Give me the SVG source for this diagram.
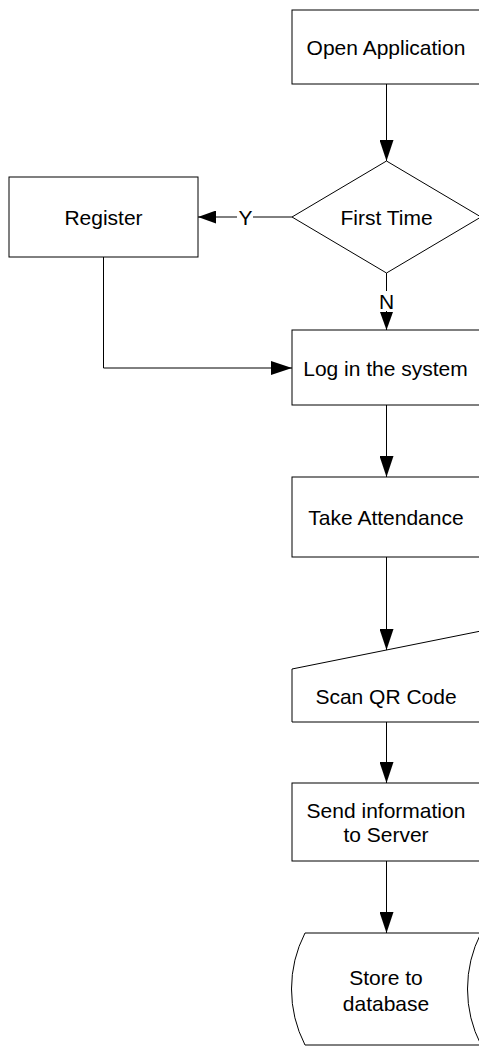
<svg xmlns="http://www.w3.org/2000/svg" width="479" height="1046" viewBox="0 0 479 1046">
  <style>
    .shape { fill: #ffffff; stroke: #000000; stroke-width: 1; }
    .edge { fill: none; stroke: #000000; stroke-width: 1; }
    .label { font-family: "Liberation Sans", Arial, sans-serif; font-size: 21px; fill: #000000; text-anchor: middle; }
  </style>
  <defs>
    <marker id="arrow" markerUnits="userSpaceOnUse" markerWidth="21" markerHeight="14" refX="21" refY="7" orient="auto">
      <path d="M0,0 L21,7 L0,14 Z" fill="#000000"/>
    </marker>
    <marker id="arrowSmall" markerUnits="userSpaceOnUse" markerWidth="18" markerHeight="13" refX="18" refY="6.5" orient="auto">
      <path d="M0,0 L18,6.5 L0,13 Z" fill="#000000"/>
    </marker>
  </defs>
  <rect width="479" height="1046" fill="#ffffff"/>

  <!-- connectors -->
  <g id="connectors">
    <path class="edge" d="M386.5,84 V161" marker-end="url(#arrow)"/>
    <path class="edge" d="M292,217 H253"/>
    <path class="edge" d="M237,217 H198" marker-end="url(#arrowSmall)"/>
    <text class="label" x="245.5" y="224.5">Y</text>
    <path class="edge" d="M386.5,273 V291"/>
    <path class="edge" d="M386.5,311 V330" marker-end="url(#arrowSmall)"/>
    <text class="label" x="386.5" y="308.5">N</text>
    <path class="edge" d="M103.5,257 V368 H292" marker-end="url(#arrow)"/>
    <path class="edge" d="M386.5,405 V477" marker-end="url(#arrow)"/>
    <path class="edge" d="M386.5,557 V650" marker-end="url(#arrow)"/>
    <path class="edge" d="M386.5,722 V783" marker-end="url(#arrow)"/>
    <path class="edge" d="M386.5,861 V933" marker-end="url(#arrow)"/>
  </g>

  <!-- process: open application -->
  <g id="open-application">
    <rect class="shape" x="292" y="10" width="189" height="74"/>
    <text class="label" x="386" y="54.5">Open Application</text>
  </g>

  <!-- decision: first time -->
  <g id="first-time">
    <polygon class="shape" points="386.5,161 481,217 386.5,273 292,217"/>
    <text class="label" x="386.5" y="224.5">First Time</text>
  </g>

  <!-- process: register -->
  <g id="register">
    <rect class="shape" x="9" y="177" width="189" height="80"/>
    <text class="label" x="103.5" y="224.5">Register</text>
  </g>

  <!-- process: log in -->
  <g id="log-in">
    <rect class="shape" x="292" y="330" width="189" height="75"/>
    <text class="label" x="385.5" y="375.5">Log in the system</text>
  </g>

  <!-- process: take attendance -->
  <g id="take-attendance">
    <rect class="shape" x="292" y="477" width="189" height="80"/>
    <text class="label" x="386" y="524.5">Take Attendance</text>
  </g>

  <!-- manual input: scan QR code -->
  <g id="scan-qr-code">
    <polygon class="shape" points="292,669 481,631 481,722 292,722"/>
    <text class="label" x="386" y="703.5">Scan QR Code</text>
  </g>

  <!-- process: send information -->
  <g id="send-information">
    <rect class="shape" x="292" y="783" width="189" height="78"/>
    <text class="label" x="386" y="817.5">Send information</text>
    <text class="label" x="386" y="841.5">to Server</text>
  </g>

  <!-- stored data: database -->
  <g id="store-to-database">
    <path class="shape" d="M305,933 H481 A123,123 0 0 0 481,1045 H305 A123,123 0 0 1 305,933 Z"/>
    <text class="label" x="386" y="984.5">Store to</text>
    <text class="label" x="386" y="1010.5">database</text>
  </g>
</svg>
